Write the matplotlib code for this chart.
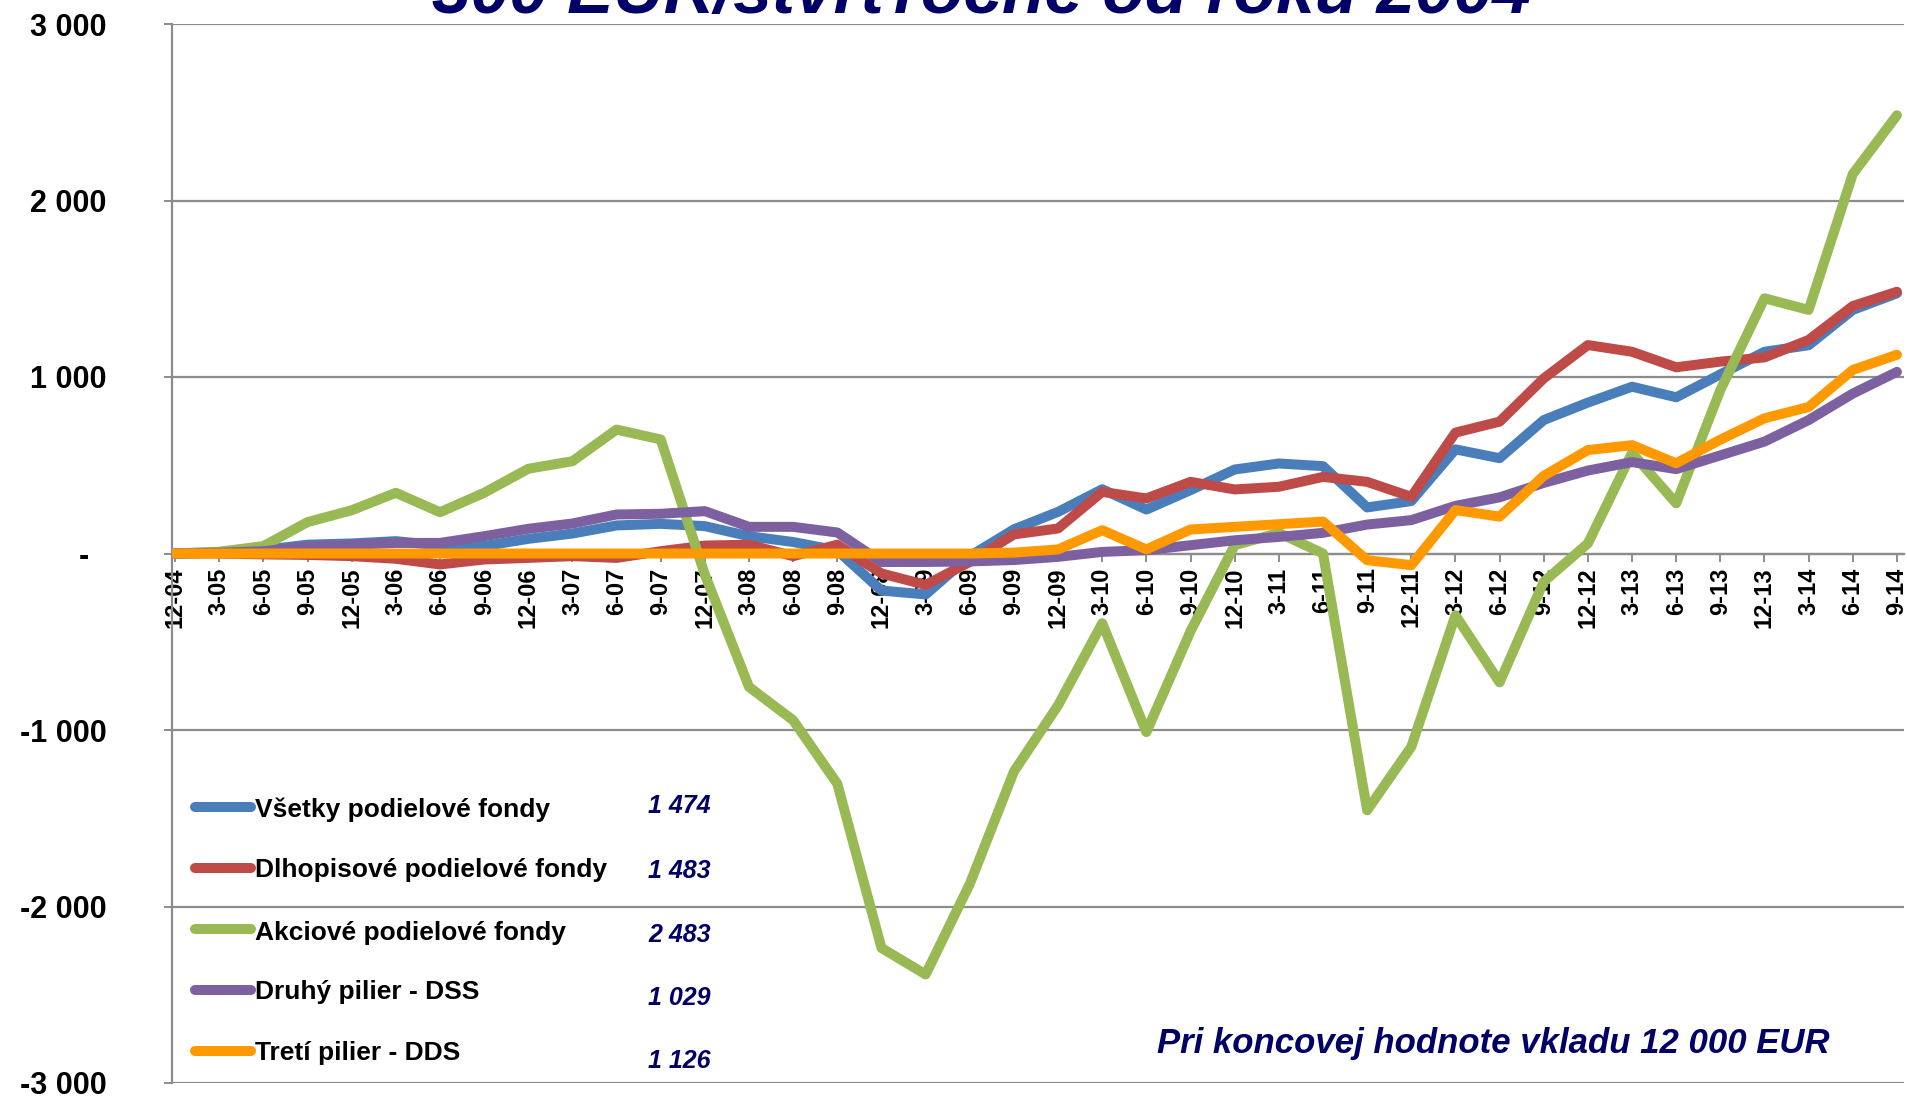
import matplotlib
matplotlib.use("Agg")
import matplotlib.pyplot as plt
from matplotlib.lines import Line2D
from matplotlib.ticker import FuncFormatter, MultipleLocator

# ---------------- data ----------------
quarters = ['12-04', '3-05', '6-05', '9-05', '12-05', '3-06', '6-06', '9-06', '12-06', '3-07',
            '6-07', '9-07', '12-07', '3-08', '6-08', '9-08', '12-08', '3-09', '6-09', '9-09',
            '12-09', '3-10', '6-10', '9-10', '12-10', '3-11', '6-11', '9-11', '12-11', '3-12',
            '6-12', '9-12', '12-12', '3-13', '6-13', '9-13', '12-13', '3-14', '6-14', '9-14']

vsetky = [0, 8, 20, 50, 57, 70, 45, 42, 83, 113,
          159, 168, 155, 98, 65, 17, -210, -232, -15, 137,
          236, 364, 249, 359, 476, 510, 495, 261, 297, 590,
          540, 756, 855, 945, 885, 1015, 1143, 1180, 1380, 1474]

dlhopisove = [0, 0, -5, -8, -15, -30, -62, -34, -25, -15,
              -25, 13, 45, 50, -15, 50, -113, -178, -48, 108,
              142, 349, 312, 406, 363, 378, 434, 406, 321, 685,
              747, 992, 1181, 1143, 1055, 1087, 1111, 1210, 1402, 1483]

akciove = [0, 10, 42, 178, 245, 344, 234, 344, 480, 523,
           702, 646, -120, -756, -945, -1305, -2235, -2385, -1872, -1235,
           -860, -395, -1012, -440, 47, 117, 0, -1455, -1095, -350,
           -730, -160, 57, 570, 284, 926, 1446, 1380, 2150, 2483]

druhy_pilier = [0, 4, 13, 40, 49, 60, 60, 98, 140, 170,
                221, 225, 240, 151, 151, 119, -48, -48, -45, -37,
                -19, 9, 19, 47, 75, 94, 117, 164, 189, 270,
                318, 400, 470, 518, 478, 556, 634, 756, 906, 1029]

treti_pilier = [0, 0, 0, 0, 0, 0, 0, 0, 0, 0,
                0, 0, 0, 0, 0, 0, 0, 0, 0, 5,
                23, 132, 23, 136, 151, 166, 181, -38, -66, 246,
                209, 440, 586, 614, 511, 645, 766, 830, 1040, 1126]

series_names = ['Všetky podielové fondy', 'Dlhopisové podielové fondy',
                'Akciové podielové fondy', 'Druhý pilier - DSS', 'Tretí pilier - DDS']
series_values = [vsetky, dlhopisove, akciove, druhy_pilier, treti_pilier]
series_colors = ['#4A7EBB', '#BE4B48', '#98B954', '#7D60A0', '#FF9900']

title_text = '300 EUR/štvrťročne od roku 2004'
note_text = 'Pri koncovej hodnote vkladu 12 000 EUR'

# ---------------- figure ----------------
W, H = 1907, 1098
fig = plt.figure(figsize=(W / 100, H / 100), dpi=100)
fig.patch.set_facecolor('white')

REG = ['Liberation Sans', 'DejaVu Sans']
NAVY = '#000066'
GRID = '#8C8C8C'

ax_left, ax_right, ax_top, ax_bottom = 172, 1904, 24, 1083
ax = fig.add_axes([ax_left / W, 1 - ax_bottom / H, (ax_right - ax_left) / W, (ax_bottom - ax_top) / H])

x = list(range(len(quarters)))
for vals, col in zip(series_values, series_colors):
    ax.plot(x, vals, color=col, lw=7.2, solid_capstyle='round', solid_joinstyle='round', zorder=3)

ax.set_xlim(-0.07, 39.16)
ax.set_ylim(-3000, 3000)
ax.yaxis.set_major_locator(MultipleLocator(1000))


def fmt(v, pos):
    v = int(round(v))
    if v == 0:
        return '-  '
    return f'{v:,}'.replace(',', ' ')


ax.yaxis.set_major_formatter(FuncFormatter(fmt))
ax.grid(axis='y', color=GRID, lw=1.6, zorder=0)
ax.set_axisbelow(True)

for s in ['top', 'right']:
    ax.spines[s].set_visible(False)
ax.spines['left'].set_color(GRID)
ax.spines['left'].set_linewidth(1.6)
ax.spines['bottom'].set_position(('data', 0))
ax.spines['bottom'].set_color(GRID)
ax.spines['bottom'].set_linewidth(1.6)

ax.set_xticks(x)
ax.set_xticklabels(quarters, rotation=90, fontsize=17, fontweight='bold', family=REG)
ax.tick_params(axis='x', direction='out', length=6, width=1.4, color=GRID, pad=4)
ax.tick_params(axis='y', direction='out', length=6, width=1.4, color=GRID, pad=41, labelsize=22)
for lab in ax.get_yticklabels():
    lab.set_fontweight('bold')
    lab.set_family(REG)

# ---------------- legend (manual) ----------------
line_rows = [807, 868, 929, 990, 1051]
text_base = [817, 877, 940, 999, 1060]
val_base = [813, 878, 942, 1005, 1068]
for name, vals, col, ly, tb, vb in zip(series_names, series_values, series_colors,
                                       line_rows, text_base, val_base):
    fig.add_artist(Line2D([195 / W, 251 / W], [1 - ly / H, 1 - ly / H], transform=fig.transFigure,
                          color=col, lw=7.2, solid_capstyle='round'))
    fig.text(255 / W, 1 - tb / H, name, fontsize=19, fontweight='bold', family=REG,
             ha='left', va='baseline', color='black')
    fig.text(711 / W, 1 - vb / H, f'{vals[-1]:,}'.replace(',', ' '), fontsize=18, fontweight='bold',
             fontstyle='italic', family=REG, ha='right', va='baseline', color=NAVY)

# ---------------- texts ----------------
fig.text(1157 / W, 1 - 1053 / H, note_text, fontsize=25, fontweight='bold', fontstyle='italic',
         family=REG, ha='left', va='baseline', color=NAVY)
# title sits partly above the top edge, as in the reference
fig.text(981 / W, 1 - 12.7 / H, title_text, fontsize=50, fontweight='bold', fontstyle='italic',
         family=REG, ha='center', va='baseline', color=NAVY)

fig.savefig('out.png', dpi=100, facecolor='white')
